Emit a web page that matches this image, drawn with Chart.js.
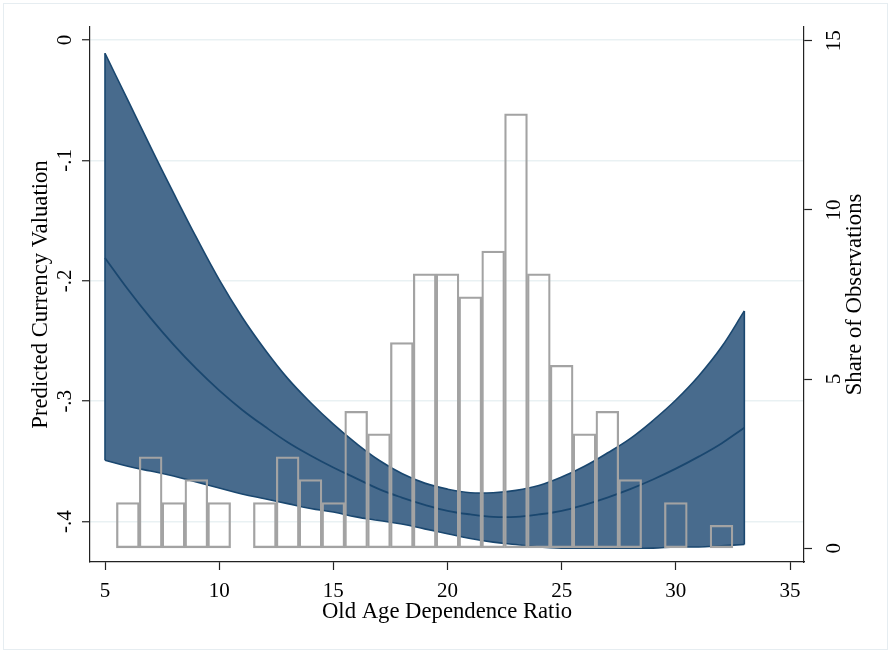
<!DOCTYPE html>
<html>
<head>
<meta charset="utf-8">
<script src="https://cdn.jsdelivr.net/npm/chart.js@4.4.1/dist/chart.umd.min.js"></script>
<style>
html,body{margin:0;padding:0;background:#fff;}
#wrap{position:relative;width:891px;height:653px;}
</style>
</head>
<body>
<div id="wrap"><canvas id="c" width="891" height="653"></canvas></div>
<script>
// ---- data ----
const xGrid = [5,6,7,8,9,10,11,12,13,14,15,16,17,18,19,20,21,22,23,24,25,26,27,28,29,30,31,32,33];
const upperCI = [-0.011,-0.050,-0.089,-0.127,-0.164,-0.199,-0.230,-0.257,-0.281,-0.301,-0.319,-0.335,-0.349,-0.360,-0.368,-0.373,-0.376,-0.376,-0.374,-0.370,-0.363,-0.354,-0.343,-0.331,-0.316,-0.299,-0.279,-0.255,-0.225];
const fitted  = [-0.181,-0.207,-0.231,-0.253,-0.273,-0.291,-0.307,-0.321,-0.334,-0.345,-0.355,-0.364,-0.373,-0.380,-0.386,-0.391,-0.394,-0.396,-0.396,-0.394,-0.391,-0.386,-0.380,-0.373,-0.365,-0.356,-0.346,-0.335,-0.322];
const lowerCI = [-0.349,-0.354,-0.358,-0.362,-0.367,-0.372,-0.377,-0.381,-0.385,-0.389,-0.392,-0.396,-0.399,-0.402,-0.406,-0.410,-0.414,-0.417,-0.419,-0.421,-0.422,-0.422,-0.422,-0.422,-0.422,-0.421,-0.421,-0.420,-0.419];
const binCenters = [6,7,8,9,10,11,12,13,14,15,16,17,18,19,20,21,22,23,24,25,26,27,28,29,30,31,32];
const sharePct   = [1.35,2.70,1.35,2.03,1.35,null,1.35,2.70,2.03,1.35,4.05,3.38,6.08,8.11,8.11,7.43,8.78,12.84,8.11,5.41,3.38,4.05,2.03,null,1.35,null,0.68];
const xTickValues = [5,10,15,20,25,30,35];
const leftTickValues = [0,-0.1,-0.2,-0.3,-0.4];
const leftTickLabels = ['0','-.1','-.2','-.3','-.4'];
const rightTickValues = [0,5,10,15];
const rightTickLabels = ['0','5','10','15'];
const xTitle = 'Old Age Dependence Ratio';
const leftTitle = 'Predicted Currency Valuation';
const rightTitle = 'Share of Observations';

// ---- styling ----
const NAVY = '#1a476f';
const BAND = '#486b8d';
const BARLINE = '#a3a3a3';
const GRID = '#e9f1f3';
const AXIS = '#222222';
const FONT = 'Liberation Serif';
const TITLE_SIZE = 22.7;
const TICK_SIZE = 21;

const pts = (xs, ys) => xs.map((x, i) => ({x: x, y: ys[i]}));
const last = xGrid.length - 1;

const frame = {
  id: 'frame',
  beforeDraw(chart) {
    const ctx = chart.ctx;
    ctx.save();
    ctx.fillStyle = '#ffffff';
    ctx.fillRect(0, 0, chart.width, chart.height);
    ctx.strokeStyle = '#e6edf1';
    ctx.lineWidth = 1;
    ctx.strokeRect(3.5, 3.5, 884, 646);
    ctx.restore();
  },
  afterDraw(chart) {
    const ctx = chart.ctx;
    const a = chart.chartArea;
    ctx.save();
    ctx.translate(855, (a.top + a.bottom) / 2);
    ctx.rotate(-Math.PI / 2);
    ctx.font = TITLE_SIZE + 'px "' + FONT + '"';
    ctx.fillStyle = '#000';
    ctx.textAlign = 'center';
    ctx.textBaseline = 'middle';
    ctx.fillText(rightTitle, 0, 0);
    ctx.restore();
  }
};

const lineCommon = {xAxisID: 'x', yAxisID: 'y', pointRadius: 0, borderColor: NAVY, tension: 0.4};

new Chart(document.getElementById('c'), {
  type: 'line',
  data: {
    datasets: [
      {
        type: 'bar', label: 'share', data: pts(binCenters, sharePct),
        xAxisID: 'x', yAxisID: 'y2', order: 0,
        backgroundColor: 'rgba(0,0,0,0)', borderColor: BARLINE, borderWidth: 1.6,
        borderSkipped: false, barPercentage: 1, categoryPercentage: 1, grouped: false
      },
      Object.assign({}, lineCommon, {
        label: 'fit', data: pts(xGrid, fitted), order: 1, borderWidth: 1.8, fill: false
      }),
      Object.assign({}, lineCommon, {
        label: 'upper', data: pts(xGrid, upperCI), order: 3, borderWidth: 1.6,
        fill: {target: 3}, backgroundColor: BAND
      }),
      Object.assign({}, lineCommon, {
        label: 'lower', data: pts(xGrid, lowerCI), order: 2, borderWidth: 1.6, fill: false
      }),
      Object.assign({}, lineCommon, {
        label: 'edgeL', data: [{x: xGrid[0], y: upperCI[0]}, {x: xGrid[0], y: lowerCI[0]}],
        order: 2, borderWidth: 1.6, fill: false, tension: 0
      }),
      Object.assign({}, lineCommon, {
        label: 'edgeR', data: [{x: xGrid[last], y: upperCI[last]}, {x: xGrid[last], y: lowerCI[last]}],
        order: 2, borderWidth: 1.6, fill: false, tension: 0
      })
    ]
  },
  options: {
    responsive: false,
    animation: false,
    events: [],
    layout: {padding: {left: 0, right: 0, top: 27, bottom: 0}},
    plugins: {legend: {display: false}, tooltip: {enabled: false}},
    scales: {
      x: {
        type: 'linear', position: 'bottom', min: 4.343, max: 35.613, offset: false,
        afterBuildTicks: s => { s.ticks = xTickValues.map(v => ({value: v})); },
        afterFit: s => { s.height = 91; },
        grid: {display: true, drawOnChartArea: false, drawTicks: true, tickLength: 8, tickColor: AXIS, tickWidth: 1.2, offset: false},
        border: {display: true, color: AXIS, width: 1.2},
        ticks: {autoSkip: false, maxRotation: 0, minRotation: 0, padding: 9, color: '#000',
                font: {family: FONT, size: TICK_SIZE}, callback: v => String(v)},
        title: {display: true, text: xTitle, color: '#000', font: {family: FONT, size: TITLE_SIZE},
                padding: {top: 0, bottom: 27}}
      },
      y: {
        type: 'linear', position: 'left', min: -0.4335, max: 0.0108,
        afterBuildTicks: s => { s.ticks = leftTickValues.map(v => ({value: v})); },
        afterFit: s => { s.width = 90; },
        grid: {display: true, drawOnChartArea: true, color: GRID, lineWidth: 1.5, drawTicks: true,
               tickLength: 8, tickColor: AXIS, tickWidth: 1.2},
        border: {display: true, color: AXIS, width: 1.2},
        ticks: {autoSkip: false, minRotation: 90, maxRotation: 90, crossAlign: 'center', padding: 5,
                color: '#000', font: {family: FONT, size: TICK_SIZE},
                callback: (v, i) => leftTickLabels[i]},
        title: {display: true, text: leftTitle, color: '#000', font: {family: FONT, size: TITLE_SIZE},
                padding: {top: 27, bottom: 0}}
      },
      y2: {
        type: 'linear', position: 'right', min: -0.405, max: 15.405,
        afterBuildTicks: s => { s.ticks = rightTickValues.map(v => ({value: v})); },
        afterFit: s => { s.width = 87; },
        grid: {display: true, drawOnChartArea: false, drawTicks: true, tickLength: 8,
               tickColor: AXIS, tickWidth: 1.2},
        border: {display: true, color: AXIS, width: 1.2},
        ticks: {autoSkip: false, minRotation: 90, maxRotation: 90, crossAlign: 'center', padding: 12,
                color: '#000', font: {family: FONT, size: TICK_SIZE},
                callback: (v, i) => rightTickLabels[i]},
        title: {display: false}
      }
    }
  },
  plugins: [frame]
});
</script>
</body>
</html>
